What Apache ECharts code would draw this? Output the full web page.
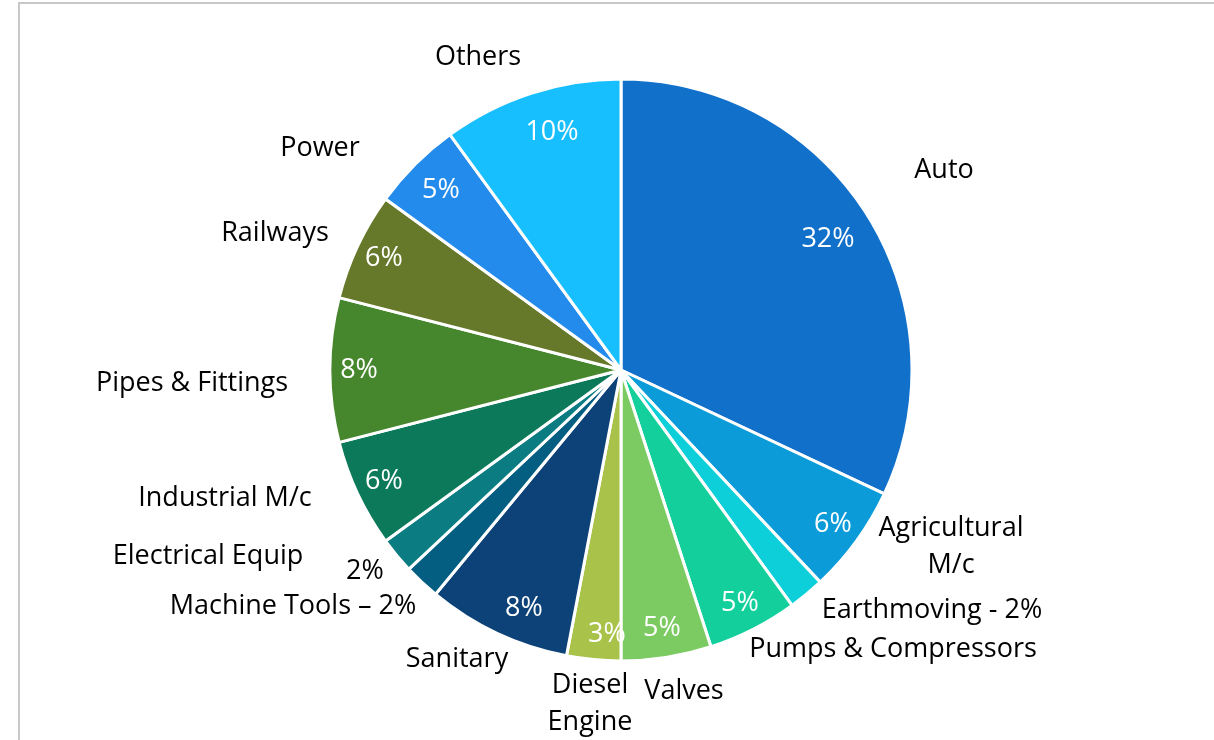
<!DOCTYPE html>
<html>
<head>
<meta charset="utf-8">
<script src="https://cdn.jsdelivr.net/npm/echarts@6/dist/echarts.min.js"></script>
<style>
html,body{margin:0;padding:0;background:#fff;}
#chart{width:1214px;height:740px;}
</style>
</head>
<body>
<div id="chart"></div>
<script>
// ---- data ----
const categories = ['Auto','Agricultural M/c','Earthmoving','Pumps & Compressors','Valves','Diesel Engine','Sanitary','Machine Tools','Electrical Equip','Industrial M/c','Pipes & Fittings','Railways','Power','Others'];
const values = [32, 6, 2, 5, 5, 3, 8, 2, 2, 6, 8, 6, 5, 10];
const outerLabels = ['Auto','Agricultural\nM/c','Earthmoving - 2%','Pumps & Compressors','Valves','Diesel\nEngine','Sanitary','Machine Tools \u2013 2%','Electrical Equip','Industrial M/c','Pipes & Fittings','Railways','Power','Others'];
const innerLabels = ['32%','6%','','5%','5%','3%','8%','','2%','6%','8%','6%','5%','10%'];

// ---- styles ----
const colors = ['#1170C9','#0B9BD8','#0CCFD9','#12CF9C','#7CCB62','#A9C24A','#0C4277','#045E82','#0A7C82','#0C7A5A','#46872E','#66792A','#228BEB','#17BFFF'];
const outerPos = [[944,170],[951,547],[932,610],[893,649],[684,691],[590,704],[457,659],[293,606],[208,556],[225,498],[192,383],[275,233],[320,148],[478,57]];
const innerOverride = {0: [828,239], 5: [607,634], 6: [524,608], 8: [365,571], 12: [441,190], 13: [552,132]};
const innerColor = {8: '#000'};
const CX = 621, CY = 370, R = 291;
const FONT = '"Open Sans", "Noto Sans", sans-serif';

const chart = echarts.init(document.getElementById('chart'));
const pieData = categories.map((c, i) => ({name: c, value: values[i], itemStyle: {color: colors[i]}}));

chart.setOption({
  animation: false,
  graphic: [{type: 'rect', shape: {x: 19, y: 3, width: 1220, height: 800}, style: {fill: 'none', stroke: '#C8C8C8', lineWidth: 2}, silent: true, z: -10}],
  series: [
    {
      type: 'pie',
      center: [CX, CY],
      radius: [0, R],
      startAngle: 90,
      clockwise: true,
      silent: true,
      itemStyle: {borderColor: '#fff', borderWidth: 3},
      label: {
        show: true,
        position: 'outside',
        formatter: p => outerLabels[p.dataIndex],
        fontFamily: FONT,
        fontSize: 27,
        color: '#000',
        lineHeight: 37,
        align: 'center'
      },
      labelLine: {show: false},
      labelLayout: p => ({x: outerPos[p.dataIndex][0], y: outerPos[p.dataIndex][1], align: 'center', verticalAlign: 'middle'}),
      data: pieData
    },
    {
      type: 'pie',
      center: [CX, CY],
      radius: [R * 0.78, R],
      startAngle: 90,
      clockwise: true,
      silent: true,
      itemStyle: {color: 'rgba(0,0,0,0)'},
      label: {
        show: true,
        position: 'inside',
        formatter: p => innerLabels[p.dataIndex],
        fontFamily: FONT,
        fontSize: 27,
        color: '#fff'
      },
      labelLine: {show: false},
      labelLayout: p => {
        const o = innerOverride[p.dataIndex];
        return o ? {x: o[0], y: o[1], align: 'center', verticalAlign: 'middle'} : {};
      },
      data: categories.map((c, i) => ({
        name: c, value: values[i],
        label: innerColor[i] ? {color: innerColor[i]} : undefined
      }))
    }
  ]
});
</script>
</body>
</html>
